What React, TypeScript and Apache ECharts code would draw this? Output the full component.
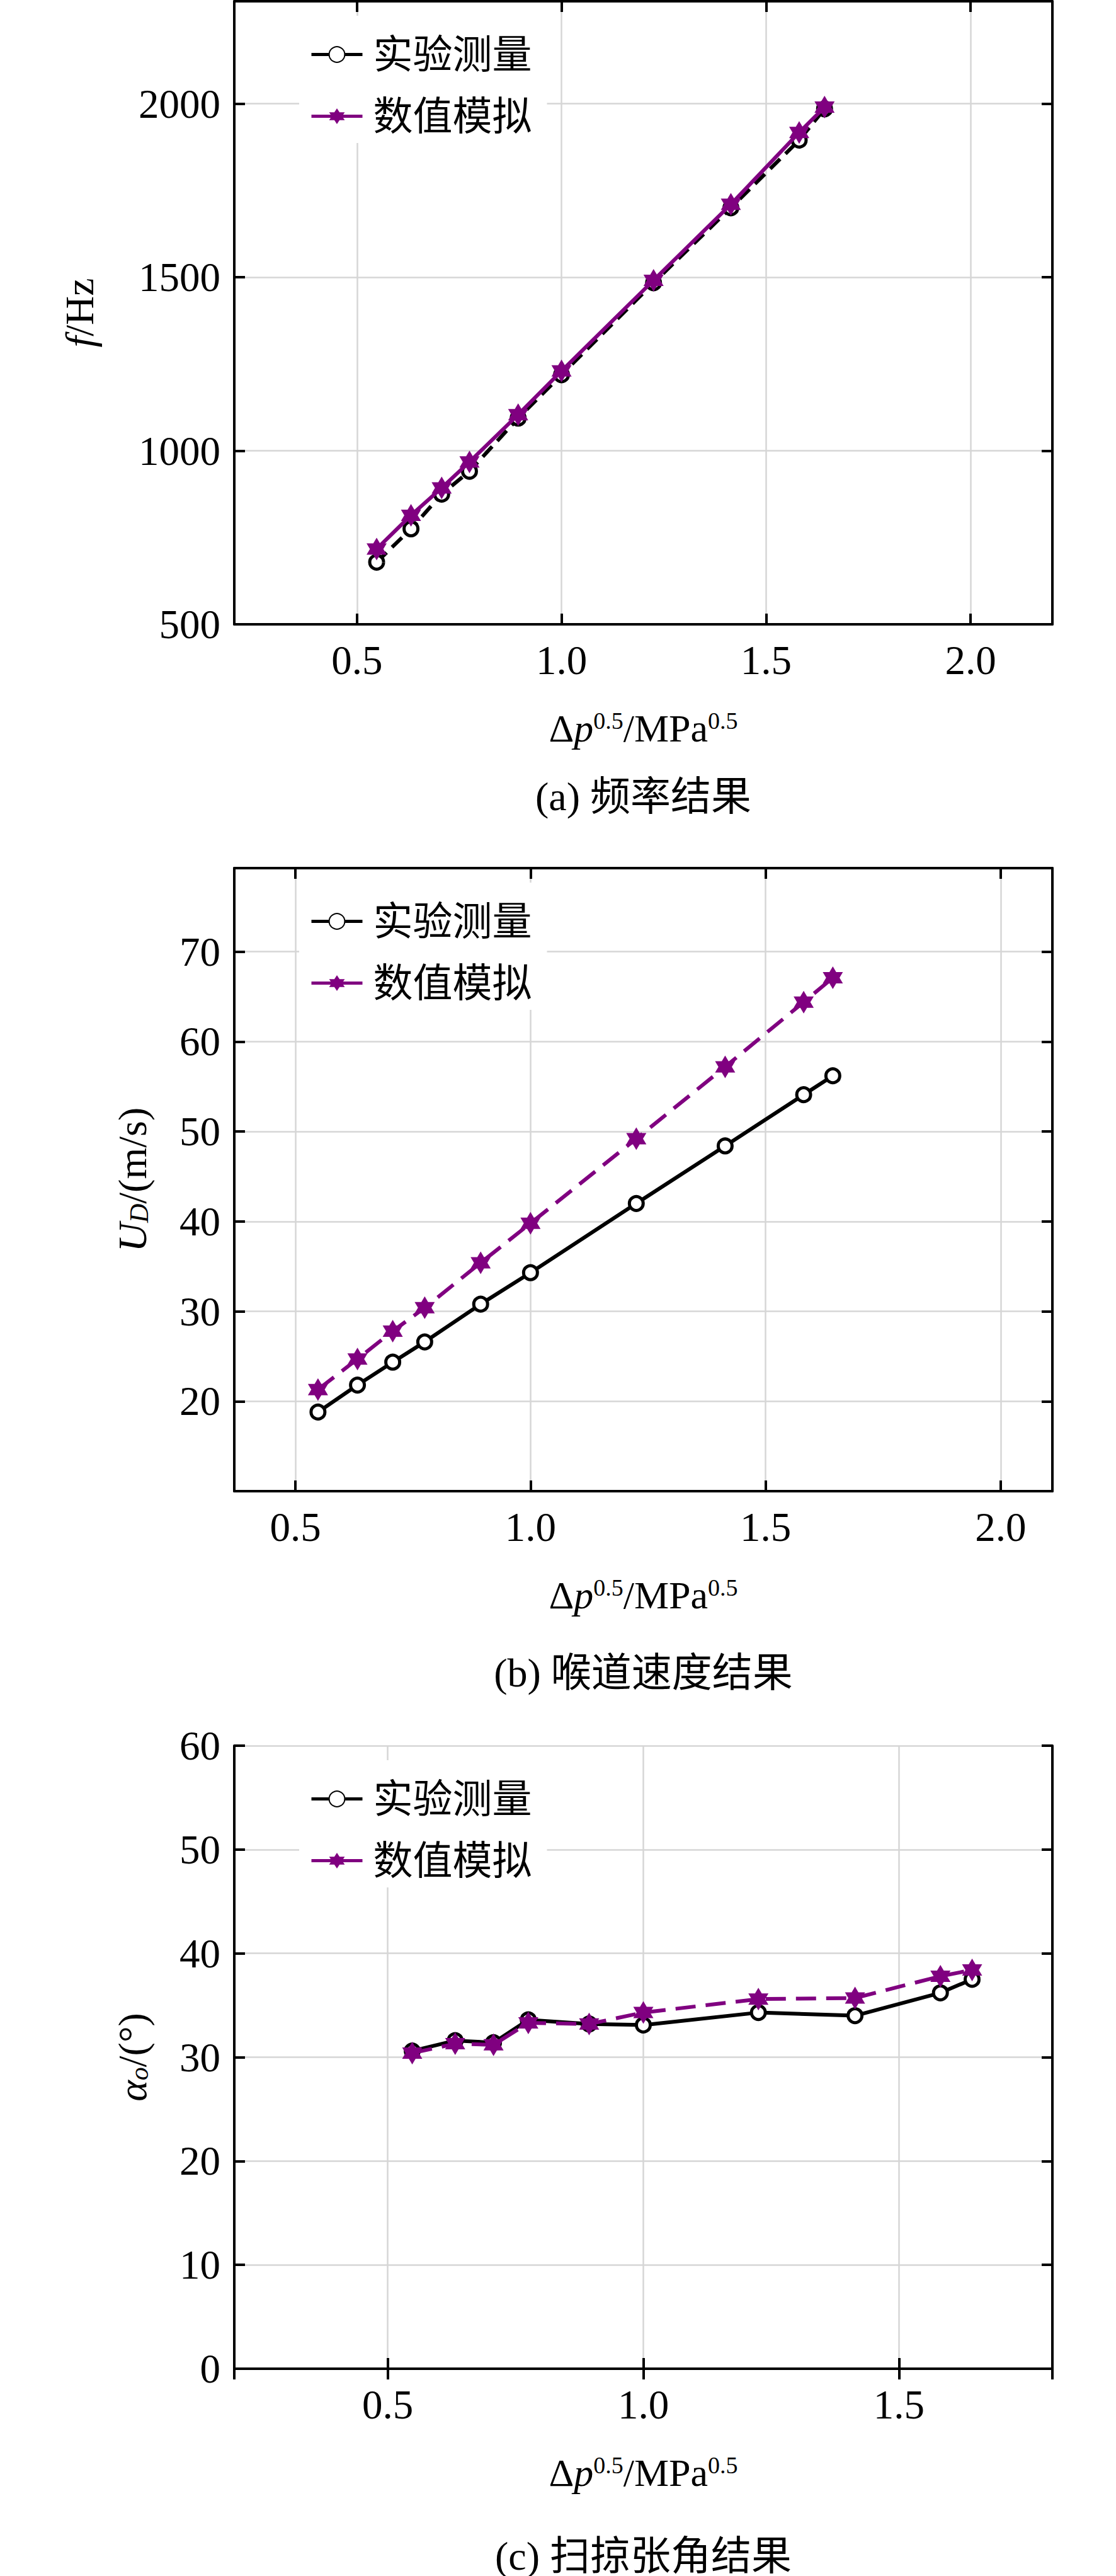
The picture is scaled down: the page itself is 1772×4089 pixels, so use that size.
import React, { useEffect, useRef } from 'react';
import * as echarts from 'echarts';

// Δp^0.5 (MPa^0.5) at the ten test points
const dpSqrt = [0.548, 0.632, 0.707, 0.775, 0.894, 1.0, 1.225, 1.414, 1.581, 1.643];

// (a) frequency, Hz
const freqExp = [679, 775, 875, 941, 1094, 1219, 1484, 1700, 1895, 1985];
const freqSim = [717, 814, 893, 968, 1104, 1230, 1491, 1710, 1917, 1990];

// (b) throat velocity, m/s
const velExp = [18.8, 21.8, 24.35, 26.6, 30.8, 34.3, 42.0, 48.4, 54.1, 56.2];
const velSim = [21.3, 24.7, 27.8, 30.4, 35.4, 39.8, 49.2, 57.2, 64.4, 67.1];

// (c) sweep angle, degrees
const angleExp = [30.6, 31.6, 31.4, 33.6, 33.2, 33.1, 34.3, 34.0, 36.2, 37.5];
const angleSim = [30.4, 31.3, 31.2, 33.3, 33.2, 34.3, 35.6, 35.7, 37.8, 38.4];

const seriesNames = ['实验测量', '数值模拟'];
const captions = ['(a) 频率结果', '(b) 喉道速度结果', '(c) 扫掠张角结果'];
const yNames = ['{i|f}/Hz', '{i|U}{sub|D}/(m/s)', '{i|α}{sub|o}/(°)'];
const xName = 'Δ{i|p}{sup|0.5}/MPa{sup|0.5}';

const xRanges = [[0.2, 2.2], [0.37, 2.11], [0.2, 1.8]];
const yRanges = [[500, 2295], [10, 79.3], [0, 60]];
const yIntervals = [500, 10, 10];

const FONT = 'Liberation Serif, Noto Sans CJK SC, serif';
const PURPLE = '#800080';
const STAR = 'path://M50 0L64.43 25L93.3 25L78.87 50L93.3 75L64.43 75L50 100L35.57 75L6.7 75L21.13 50L6.7 25L35.57 25Z';

// layout of the three stacked panels
const gridTops = [2, 1378, 2771];
const gridHeight = 989;
const gridLeft = 372;
const gridWidth = 1299;
const yNameGaps = [214, 130, 130];
const captionY = [1264, 2655, 4057];

const pairs = (ys: number[]) => dpSqrt.map((x, i) => [x, ys[i]]);

const App: React.FC = () => {
  const chartRef = useRef<HTMLDivElement>(null);

  useEffect(() => {
    if (!chartRef.current) return;
    const chart = echarts.init(chartRef.current, null, { renderer: 'svg' });

    const axisLine = { show: true, lineStyle: { color: '#000', width: 4 } };
    const tick = { show: true, inside: true, length: 17, lineStyle: { color: '#000', width: 4 } };
    const split = { show: true, lineStyle: { color: '#d6d6d6', width: 2.5 } };
    const labelFont = { color: '#000', fontSize: 65, fontFamily: FONT };

    const grids: any[] = [];
    const xAxes: any[] = [];
    const yAxes: any[] = [];
    const legends: any[] = [];
    const series: any[] = [];
    const graphics: any[] = [];
    const sets = [
      [freqExp, freqSim],
      [velExp, velSim],
      [angleExp, angleSim],
    ];

    for (let p = 0; p < 3; p++) {
      const top = gridTops[p];
      grids.push({ left: gridLeft, top, width: gridWidth, height: gridHeight, containLabel: false });

      const xBase = {
        type: 'value',
        gridIndex: p,
        min: xRanges[p][0],
        max: xRanges[p][1],
        splitNumber: 4,
        axisLine,
        axisTick: tick,
      };
      xAxes.push({
        ...xBase,
        position: 'bottom',
        splitLine: split,
        axisLabel: {
          ...labelFont,
          margin: 24,
          showMinLabel: false,
          showMaxLabel: false,
          formatter: (v: number) => {
            const r = Math.round(v * 2) / 2;
            return Math.abs(r - v) < 1e-6 ? r.toFixed(1) : '';
          },
        },
        name: xName,
        nameLocation: 'middle',
        nameGap: 134,
        nameMoveOverlap: false,
        nameTextStyle: {
          color: '#000',
          fontSize: 62,
          fontFamily: FONT,
          rich: {
            i: { fontSize: 62, fontFamily: FONT, fontStyle: 'italic', color: '#000' },
            sup: { fontSize: 38, fontFamily: FONT, color: '#000', verticalAlign: 'top' },
          },
        },
      });
      xAxes.push({ ...xBase, position: 'top', splitLine: { show: false }, axisLabel: { show: false } });

      const yBase = {
        type: 'value',
        gridIndex: p,
        min: yRanges[p][0],
        max: yRanges[p][1],
        interval: yIntervals[p],
        axisLine,
        axisTick: tick,
      };
      yAxes.push({
        ...yBase,
        position: 'left',
        splitLine: split,
        axisLabel: {
          ...labelFont,
          margin: 22,
          showMinLabel: p !== 1,
          showMaxLabel: p === 2,
          formatter: (v: number) => String(v),
        },
        name: yNames[p],
        nameLocation: 'middle',
        nameGap: yNameGaps[p],
        nameMoveOverlap: false,
        nameTextStyle: {
          color: '#000',
          fontSize: 64,
          fontFamily: FONT,
          rich: {
            i: { fontSize: 64, fontFamily: FONT, fontStyle: 'italic', color: '#000' },
            sub: { fontSize: 42, fontFamily: FONT, fontStyle: 'italic', color: '#000', verticalAlign: 'bottom' },
          },
        },
      });
      yAxes.push({ ...yBase, position: 'right', splitLine: { show: false }, axisLabel: { show: false } });

      legends.push({
        data: seriesNames,
        orient: 'vertical',
        left: 475,
        top: top + 23,
        itemWidth: 81,
        itemHeight: 31,
        itemGap: 35,
        padding: [30, 24, 11, 17],
        backgroundColor: '#fff',
        selectedMode: false,
        lineStyle: { type: 'solid', width: 5 },
        textStyle: { color: '#000', fontSize: 63, lineHeight: 62, fontFamily: FONT, padding: [0, 0, 0, 12] },
      });

      const [exp, sim] = sets[p];
      series.push({
        name: seriesNames[0],
        type: 'line',
        xAxisIndex: p * 2,
        yAxisIndex: p * 2,
        data: pairs(exp),
        symbol: 'circle',
        symbolSize: 22,
        lineStyle: { color: '#000', width: 6, type: p === 0 ? [22, 12] : 'solid' },
        itemStyle: { color: '#fff', borderColor: '#000', borderWidth: 5 },
        z: 3,
      });
      series.push({
        name: seriesNames[1],
        type: 'line',
        xAxisIndex: p * 2,
        yAxisIndex: p * 2,
        data: pairs(sim),
        symbol: STAR,
        symbolSize: [32, 36],
        lineStyle: { color: PURPLE, width: 6, type: p === 0 ? 'solid' : [32, 16] },
        itemStyle: { color: PURPLE },
        z: 4,
      });

      graphics.push({
        type: 'text',
        x: gridLeft + gridWidth / 2,
        y: captionY[p],
        style: {
          text: captions[p],
          fill: '#000',
          fontSize: 64,
          fontFamily: FONT,
          textAlign: 'center',
          textVerticalAlign: 'middle',
        },
      });
    }

    chart.setOption({
      animation: false,
      backgroundColor: '#fff',
      grid: grids,
      xAxis: xAxes,
      yAxis: yAxes,
      legend: legends,
      series,
      graphic: graphics,
    });

    return () => {
      chart.dispose();
    };
  }, []);

  return (
    <div
      ref={chartRef}
      style={{ position: 'absolute', left: 0, top: 0, width: 1772, height: 4089, background: '#fff' }}
    />
  );
};

export default App;
